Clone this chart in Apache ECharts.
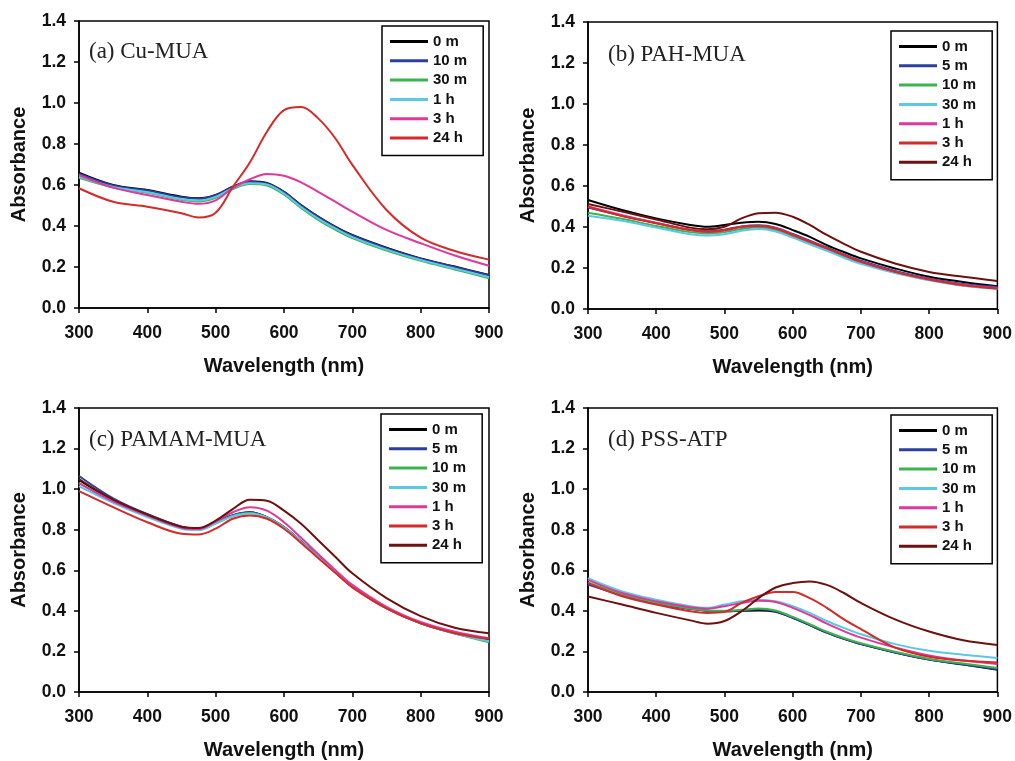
<!DOCTYPE html>
<html>
<head>
<meta charset="utf-8">
<script src="https://cdn.jsdelivr.net/npm/echarts@6/dist/echarts.min.js"></script>
<style>
html,body{margin:0;padding:0;background:#fff;}
#chart{width:1015px;height:761px;}
</style>
</head>
<body>
<div id="chart"></div>
<script>
// Wavelength sample points (nm)
const wavelengths = [300,350,400,450,475,500,525,550,575,600,625,650,675,700,750,800,850,900];

// Tick values
const xTicks = [300,400,500,600,700,800,900];
const yTicks = [0.0,0.2,0.4,0.6,0.8,1.0,1.2,1.4];

// Panel titles
const panelTitles = ['(a) Cu-MUA', '(b) PAH-MUA', '(c) PAMAM-MUA', '(d) PSS-ATP'];

// Legend labels
const labelsA = ['0 m','10 m','30 m','1 h','3 h','24 h'];
const labelsBCD = ['0 m','5 m','10 m','30 m','1 h','3 h','24 h'];

// (a) Cu-MUA
const a_0m  = [0.660,0.600,0.576,0.543,0.535,0.551,0.592,0.618,0.610,0.567,0.502,0.446,0.397,0.356,0.294,0.242,0.202,0.161];
const a_10m = [0.655,0.598,0.573,0.540,0.533,0.550,0.590,0.616,0.608,0.565,0.500,0.445,0.395,0.354,0.292,0.240,0.200,0.160];
const a_30m = [0.635,0.588,0.562,0.528,0.520,0.538,0.580,0.605,0.598,0.553,0.488,0.430,0.382,0.341,0.280,0.230,0.188,0.145];
const a_1h  = [0.640,0.590,0.565,0.532,0.524,0.542,0.584,0.608,0.602,0.558,0.493,0.436,0.388,0.346,0.285,0.234,0.192,0.150];
const a_3h  = [0.649,0.587,0.551,0.518,0.508,0.525,0.585,0.628,0.654,0.645,0.613,0.567,0.519,0.470,0.381,0.316,0.256,0.206];
const a_24h = [0.584,0.518,0.494,0.462,0.442,0.465,0.590,0.710,0.860,0.965,0.980,0.925,0.828,0.698,0.478,0.343,0.278,0.236];

// (b) PAH-MUA
const b_0m  = [0.532,0.483,0.442,0.410,0.401,0.410,0.421,0.426,0.415,0.385,0.352,0.312,0.278,0.247,0.198,0.157,0.132,0.111];
const b_5m  = [0.495,0.455,0.420,0.387,0.379,0.387,0.403,0.408,0.397,0.366,0.333,0.300,0.266,0.235,0.186,0.149,0.122,0.108];
const b_10m = [0.470,0.440,0.405,0.375,0.368,0.375,0.390,0.397,0.385,0.355,0.322,0.290,0.256,0.225,0.178,0.142,0.115,0.100];
const b_30m = [0.455,0.430,0.397,0.365,0.358,0.365,0.382,0.390,0.378,0.348,0.316,0.284,0.250,0.220,0.175,0.140,0.113,0.098];
const b_1h  = [0.500,0.458,0.420,0.385,0.376,0.384,0.400,0.405,0.394,0.362,0.329,0.297,0.262,0.231,0.182,0.145,0.118,0.102];
const b_3h  = [0.499,0.454,0.418,0.385,0.377,0.385,0.401,0.405,0.393,0.361,0.328,0.296,0.263,0.230,0.181,0.144,0.116,0.100];
const b_24h = [0.512,0.475,0.437,0.397,0.389,0.401,0.442,0.467,0.470,0.450,0.410,0.361,0.318,0.279,0.222,0.181,0.157,0.137];

// (c) PAMAM-MUA
const c_0m  = [1.045,0.945,0.872,0.813,0.805,0.835,0.870,0.886,0.862,0.813,0.743,0.667,0.593,0.520,0.415,0.341,0.293,0.258];
const c_5m  = [1.065,0.955,0.877,0.815,0.806,0.838,0.872,0.886,0.862,0.812,0.742,0.666,0.592,0.519,0.413,0.339,0.290,0.252];
const c_10m = [1.030,0.940,0.866,0.808,0.800,0.832,0.868,0.882,0.860,0.810,0.740,0.664,0.590,0.518,0.413,0.338,0.288,0.245];
const c_30m = [1.015,0.932,0.862,0.805,0.798,0.830,0.866,0.880,0.860,0.810,0.741,0.665,0.592,0.520,0.415,0.340,0.290,0.250];
const c_1h  = [1.030,0.940,0.870,0.810,0.803,0.840,0.886,0.911,0.894,0.837,0.760,0.680,0.602,0.528,0.420,0.345,0.297,0.265];
const c_3h  = [0.990,0.911,0.837,0.780,0.776,0.805,0.854,0.870,0.854,0.805,0.735,0.660,0.588,0.516,0.412,0.338,0.290,0.262];
const c_24h = [1.050,0.948,0.875,0.815,0.808,0.845,0.902,0.948,0.943,0.894,0.829,0.748,0.667,0.585,0.463,0.374,0.317,0.290];

// (d) PSS-ATP
const d_0m  = [0.535,0.480,0.439,0.411,0.401,0.398,0.400,0.402,0.395,0.366,0.330,0.293,0.262,0.236,0.195,0.160,0.135,0.110];
const d_5m  = [0.530,0.478,0.437,0.410,0.400,0.398,0.402,0.408,0.398,0.366,0.330,0.293,0.262,0.236,0.195,0.160,0.136,0.112];
const d_10m = [0.540,0.482,0.440,0.412,0.402,0.400,0.405,0.412,0.402,0.370,0.334,0.297,0.266,0.240,0.198,0.163,0.140,0.118];
const d_30m = [0.561,0.496,0.455,0.423,0.415,0.431,0.447,0.455,0.447,0.423,0.390,0.350,0.316,0.285,0.236,0.203,0.184,0.168];
const d_1h  = [0.553,0.488,0.447,0.418,0.411,0.423,0.439,0.450,0.444,0.415,0.379,0.337,0.300,0.268,0.219,0.180,0.155,0.138];
const d_3h  = [0.537,0.472,0.431,0.398,0.390,0.395,0.439,0.472,0.493,0.493,0.463,0.415,0.358,0.310,0.219,0.174,0.155,0.146];
const d_24h = [0.471,0.431,0.390,0.353,0.337,0.350,0.398,0.463,0.515,0.537,0.545,0.528,0.488,0.439,0.358,0.298,0.255,0.232];

// ---------- styling / layout ----------
const C = {black:'#000000', blue:'#2c3f9e', green:'#3cb44b', cyan:'#5cc8e4', magenta:'#e0389a', red:'#d42a2a', darkred:'#6e1010'};
const colorsA = [C.black, C.blue, C.green, C.cyan, C.magenta, C.red];
const colorsBCD = [C.black, C.blue, C.green, C.cyan, C.magenta, C.red, C.darkred];

const panels = [
  {key:'a', labels:labelsA,   colors:colorsA,   data:[a_0m,a_10m,a_30m,a_1h,a_3h,a_24h],
   grid:{left:79, top:21, width:410, height:287}, legend:{left:382, top:26}, title:{left:89, top:40}},
  {key:'b', labels:labelsBCD, colors:colorsBCD, data:[b_0m,b_5m,b_10m,b_30m,b_1h,b_3h,b_24h],
   grid:{left:588, top:22, width:411, height:287}, legend:{left:891, top:31}, title:{left:608, top:43}},
  {key:'c', labels:labelsBCD, colors:colorsBCD, data:[c_0m,c_5m,c_10m,c_30m,c_1h,c_3h,c_24h],
   grid:{left:79, top:408, width:410, height:287}, legend:{left:381, top:414}, title:{left:89, top:428}},
  {key:'d', labels:labelsBCD, colors:colorsBCD, data:[d_0m,d_5m,d_10m,d_30m,d_1h,d_3h,d_24h],
   grid:{left:588, top:408, width:411, height:287}, legend:{left:891, top:415}, title:{left:608, top:428}}
];

const SANS = 'Liberation Sans, Arial, sans-serif';
const SERIF = 'Liberation Serif, Times New Roman, serif';

const option = {
  backgroundColor:'#ffffff',
  animation:false,
  title:[], grid:[], xAxis:[], yAxis:[], legend:[], series:[]
};

panels.forEach((p, i) => {
  option.grid.push(Object.assign({show:true, borderColor:'#000', borderWidth:1.5, backgroundColor:'transparent', containLabel:false}, p.grid));
  option.title.push({
    text: panelTitles[i], left:p.title.left, top:p.title.top, padding:0,
    textStyle:{fontFamily:SERIF, fontSize:23, fontWeight:'normal', color:'#222'}
  });
  option.xAxis.push({
    type:'value', gridIndex:i, min:xTicks[0], max:xTicks[xTicks.length-1], interval:xTicks[1]-xTicks[0],
    name:'Wavelength (nm)', nameLocation:'middle', nameGap:48,
    nameTextStyle:{fontFamily:SANS, fontWeight:'bold', fontSize:20, color:'#111'},
    axisLine:{show:true, onZero:false, lineStyle:{color:'#000', width:1.5}},
    axisTick:{show:true, inside:false, length:5, lineStyle:{color:'#000', width:1.5}},
    axisLabel:{fontFamily:SANS, fontWeight:'bold', fontSize:17.5, color:'#111', margin:16},
    splitLine:{show:false}
  });
  option.yAxis.push({
    type:'value', gridIndex:i, min:yTicks[0], max:yTicks[yTicks.length-1], interval:0.2,
    name:'Absorbance', nameLocation:'middle', nameGap:50, nameRotate:90,
    nameTextStyle:{fontFamily:SANS, fontWeight:'bold', fontSize:20, color:'#111'},
    axisLine:{show:true, onZero:false, lineStyle:{color:'#000', width:1.5}},
    axisTick:{show:true, inside:false, length:5, lineStyle:{color:'#000', width:1.5}},
    axisLabel:{fontFamily:SANS, fontWeight:'bold', fontSize:17.5, color:'#111', margin:13,
      formatter: v => Number(v).toFixed(1)},
    splitLine:{show:false}
  });
  const names = p.labels.map(l => p.key + '|' + l);
  option.legend.push({
    data:names, orient:'vertical', left:p.legend.left, top:p.legend.top,
    icon:'rect', itemWidth:38, itemHeight:3, itemGap:4.3,
    selectedMode:false,
    formatter: n => n.split('|')[1],
    textStyle:{fontFamily:SANS, fontWeight:'bold', fontSize:15, color:'#111', lineHeight:15},
    borderColor:'#000', borderWidth:1.5, padding:[8,16,10,8], backgroundColor:'#fff'
  });
  p.data.forEach((vals, k) => {
    option.series.push({
      type:'line', name:names[k], xAxisIndex:i, yAxisIndex:i,
      data: wavelengths.map((w, j) => [w, vals[j]]),
      smooth:0.35, showSymbol:false, symbol:'none',
      lineStyle:{color:p.colors[k], width:2},
      itemStyle:{color:p.colors[k]},
      z: 2
    });
  });
});

const chart = echarts.init(document.getElementById('chart'), null, {renderer:'canvas'});
chart.setOption(option);
</script>
</body>
</html>
